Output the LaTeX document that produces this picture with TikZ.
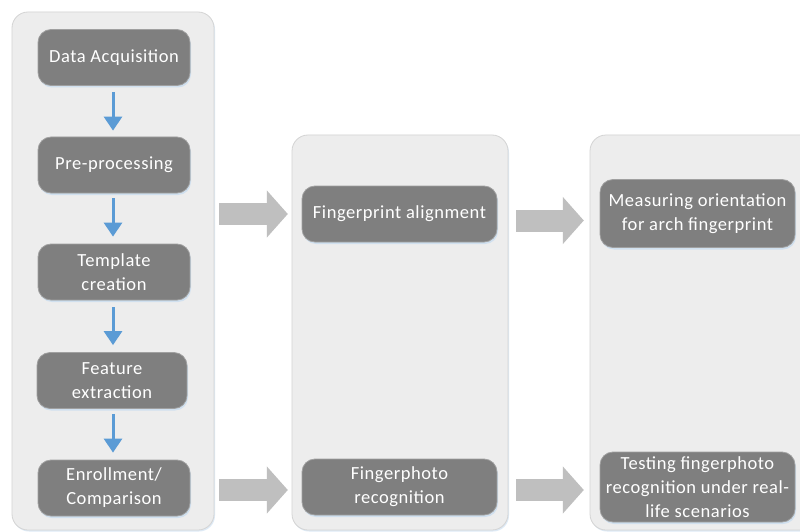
\documentclass[tikz,border=0pt]{standalone}
\usepackage{fontspec}
\setmainfont{Carlito}[LetterSpace=3]
\usetikzlibrary{arrows.meta,shadows}
\definecolor{panelfill}{HTML}{EDEDED}
\definecolor{paneledge}{HTML}{D4D4D4}
\definecolor{boxfill}{HTML}{7F7F7F}
\definecolor{boxedge}{HTML}{A0A0A0}
\definecolor{flowblue}{HTML}{5B9BD5}
\definecolor{arrowgray}{HTML}{BFBFBF}
\definecolor{glow}{HTML}{C9DDF0}
\tikzset{
  panel/.style={draw=paneledge, fill=panelfill, line width=0.8pt, rounded corners=16pt,
    drop shadow={shadow xshift=1pt, shadow yshift=-1.5pt, fill=glow, opacity=0.6}},
  stepbox/.style={draw=boxedge, fill=boxfill, line width=0.8pt, rounded corners=13pt,
    text=white, align=center, font=\fontsize{18.5}{24}\selectfont,
    inner sep=0pt, drop shadow={shadow xshift=1pt, shadow yshift=-2pt, fill=glow, opacity=0.8}},
  flowarrow/.style={draw=flowblue, line width=3pt, -{Triangle[width=18pt,length=14pt]}},
  bigarrow/.style={draw=arrowgray, line width=22pt, -{Triangle[width=46pt,length=21pt]}},
}
\begin{document}
\begin{tikzpicture}[x=1pt,y=-1pt]
\useasboundingbox (0,0) rectangle (800,532);
\clip (0,0) rectangle (800,532);
\fill[white] (0,0) rectangle (800,532);

% background panels
\path[panel] (12,12) rectangle (214,530);
\node[inner sep=0pt, minimum width=202pt, minimum height=518pt] (leftpanel) at (113,271) {};
\path[panel] (292,135) rectangle (508,530);
\node[inner sep=0pt, minimum width=216pt, minimum height=395pt] (midpanel) at (400,332.5) {};
\path[panel] (590,135) rectangle (830,530);
\node[inner sep=0pt, minimum width=240pt, minimum height=395pt] (rightpanel) at (710,332.5) {};

% pipeline steps
\node[stepbox, minimum width=152pt, minimum height=56pt] (acq)  at (114,57.5)  {Data Acquisition};
\node[stepbox, minimum width=152pt, minimum height=56pt] (pre)  at (114,165)   {Pre-processing};
\node[stepbox, minimum width=152pt, minimum height=56pt] (tmpl) at (114,272)   {Template\\creation};
\node[stepbox, minimum width=150pt, minimum height=56pt] (feat) at (112,380.5) {Feature\\extraction};
\node[stepbox, minimum width=152pt, minimum height=56pt] (enr)  at (114,488)   {Enrollment/\\Comparison};

\node[stepbox, minimum width=195pt, minimum height=56pt] (aln)  at (399.5,214) {Fingerprint alignment};
\node[stepbox, minimum width=195pt, minimum height=56pt] (fph)  at (399.5,487) {Fingerphoto\\recognition};

\node[stepbox, minimum width=195pt, minimum height=68pt] (orient) at (697.5,213.5) {Measuring orientation\\for arch fingerprint};
\node[stepbox, minimum width=195pt, minimum height=70pt] (test)   at (697.5,487)   {Testing fingerphoto\\recognition under real-\\life scenarios};

% vertical flow arrows
\draw[flowarrow] ([xshift=-1pt,yshift=-6.5pt]acq.south) -- ([xshift=-1pt,yshift=6pt]pre.north);
\draw[flowarrow] ([xshift=-1pt,yshift=-5pt]pre.south)   -- ([xshift=-1pt,yshift=7pt]tmpl.north);
\draw[flowarrow] ([xshift=-1pt,yshift=-7pt]tmpl.south)  -- ([xshift=1pt,yshift=7pt]feat.north);
\draw[flowarrow] ([xshift=1pt,yshift=-5pt]feat.south)   -- ([xshift=-1pt,yshift=7pt]enr.north);

% block arrows between panels
\draw[bigarrow] ([xshift=5pt]leftpanel.east |- aln) -- ([xshift=-4pt]midpanel.west |- aln);
\draw[bigarrow] ([xshift=8pt,yshift=-7pt]midpanel.east |- orient) -- ([xshift=-6pt,yshift=-7pt]rightpanel.west |- orient);
\draw[bigarrow] ([xshift=5pt,yshift=-3pt]leftpanel.east |- fph) -- ([xshift=-4pt,yshift=-3pt]midpanel.west |- fph);
\draw[bigarrow] ([xshift=8pt,yshift=-3pt]midpanel.east |- test) -- ([xshift=-6pt,yshift=-3pt]rightpanel.west |- test);
\end{tikzpicture}
\end{document}
